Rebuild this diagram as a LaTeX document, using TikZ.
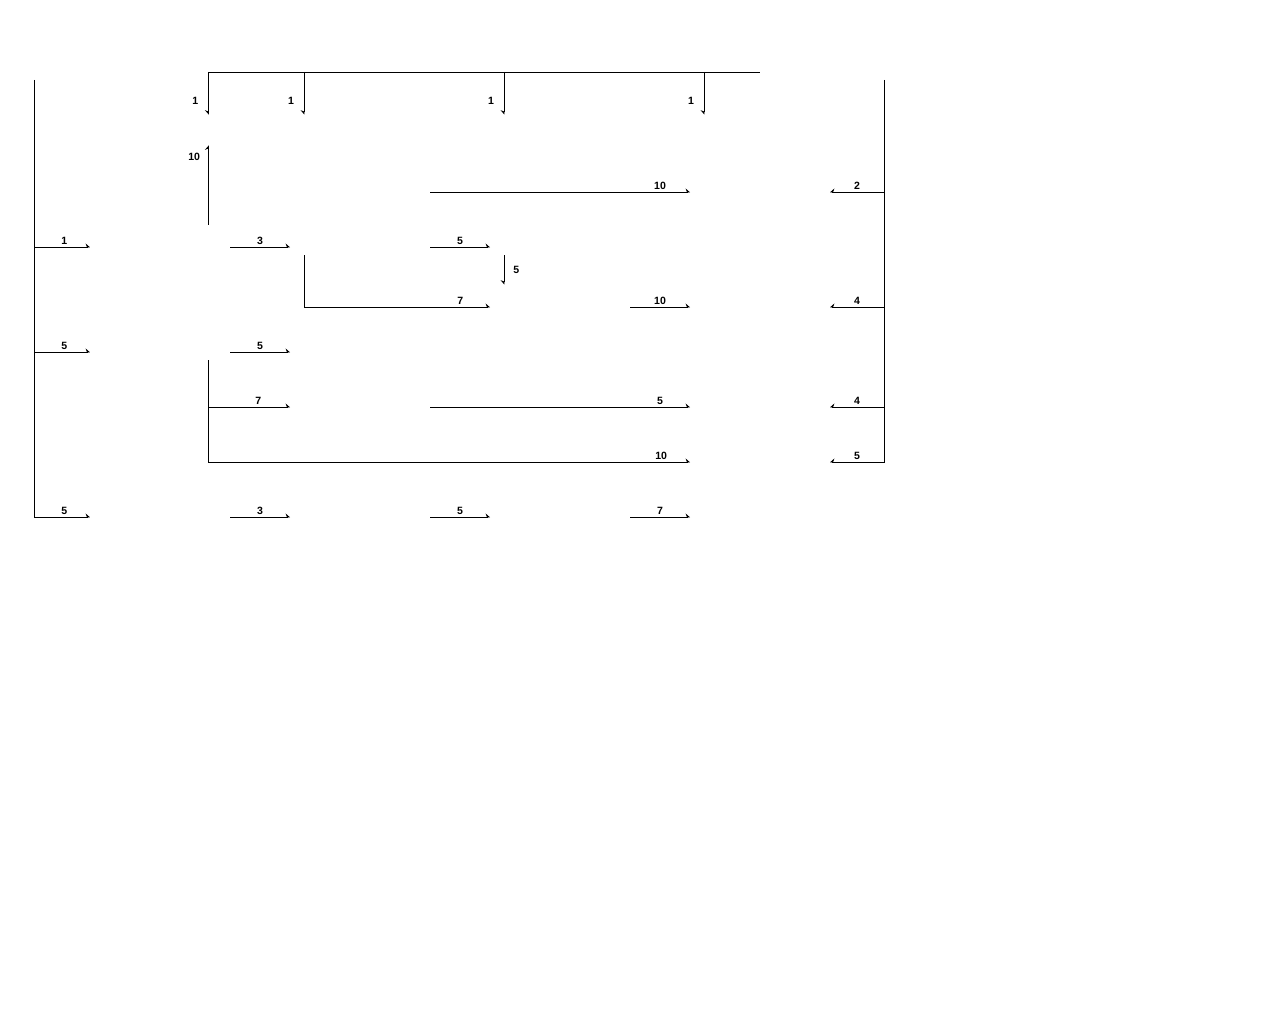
\documentclass[tikz,border=0pt]{standalone}
\usepackage{fontspec}
\setsansfont{Liberation Sans}
\usetikzlibrary{positioning, quotes, calc, arrows.meta}
\tikzset{
  flow/.style = {-{Stealth[length = 0.8mm, width = 1.4mm, left]}},      % rightward / upward
  flowback/.style = {-{Stealth[length = 0.8mm, width = 1.4mm, right]}}, % leftward / downward
  bus/.style = {line width = 0.5pt},
  slot/.style = {inner sep = 0, minimum width = 2.8cm, minimum height = 0.6cm},
  weight/.style = {font = \sffamily\bfseries\fontsize{6}{7}\selectfont, inner sep = 1pt}
}
\def \rows {137, 192, 247, 307, 352, 407, 462, 517}
\def \cols {160, 360, 560, 760}

\begin{document}
\begin{tikzpicture}[x = 0.02cm, y = -0.02cm, line width = 0.5pt]
\useasboundingbox (0,0) rectangle (1280,1024);

%% Hidden slots, with their in and out ports
\foreach \ly [count = \r from 0] in \rows {
  \foreach \cx [count = \c] in \cols {
    \node [slot] (b\r\c) at (\cx, \ly - 7) {};
    \coordinate (i\r\c) at (\cx - 70, \ly);
    \coordinate (o\r\c) at (\cx + 70, \ly);
  }
}

%% Feeds
\coordinate (feed) at (760,72);
\coordinate (lfeed) at (34,80);
\coordinate (rfeed) at (884,80);

%% Top bus and drops
\coordinate (d1) at ($(b01.north east) + (-22,0)$);
\foreach \c in {2,3,4}
  \coordinate (d\c) at ($(b0\c.north west) + (14.5,0)$);
\draw [bus] (feed -| d1) -- (feed);
\foreach \c in {1,...,4}
  \draw [flowback] (feed -| d\c) -- node [weight, left = 1.6mm, pos = 0.67] {1} (d\c);

%% Left bus
\draw [flow] (lfeed) |- node [weight, above, pos = 0.77] {5} (i71);
\foreach \r/\w in {2/1, 4/5}
  \draw [flow] (lfeed |- i\r1) -- node [weight, above, pos = 0.54] {\w} (i\r1);

%% Right bus
\draw [flowback] (rfeed) |- node [weight, above, pos = 0.75] {5} (o64);
\foreach \r/\w in {1/2, 3/4, 5/4}
  \draw [flowback] (rfeed |- o\r4) -- node [weight, above] {\w} (o\r4);

%% Short links
\foreach \a/\b/\w in {21/22/3, 22/23/5, 33/34/10, 41/42/5, 71/72/3, 72/73/5, 73/74/7}
  \draw [flow] (o\a) -- node [weight, above] {\w} (i\b);

%% Long links
\foreach \a/\b/\w in {12/14/10, 52/54/5}
  \draw [flow] (o\a) -- node [weight, above, pos = 0.885] {\w} (i\b);

%% Vertical links
\draw [flow] ($(b21.north east) + (-22,0)$) -- node [weight, left = 1.25mm, pos = 0.85] {10} ($(b01.south east) + (-22,0)$);
\draw [flowback] ($(b23.south west) + (14.5,0)$) -- node [weight, right = 1.4mm] {5} ($(b33.north west) + (14.5,0)$);
\draw [flow] ($(b22.south west) + (14.5,0)$) |- node [weight, above, pos = 0.92] {7} (i33);

\coordinate (tap) at ($(b41.south east) + (-22,0)$);
\draw [flow] (tap) |- node [weight, above, pos = 0.97] {10} (i64);
\draw [flow] (tap |- i52) -- node [weight, above, pos = 0.61] {7} (i52);

\end{tikzpicture}
\end{document}
